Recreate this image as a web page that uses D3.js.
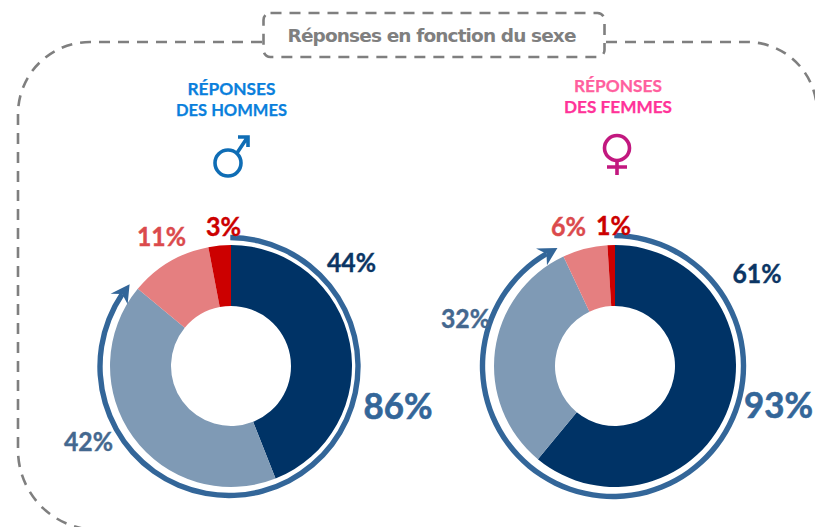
<!DOCTYPE html>
<html><head><meta charset="utf-8">
<script src="https://cdn.jsdelivr.net/npm/d3@7"></script>
<style>html,body{margin:0;padding:0;background:#fff;overflow:hidden}svg{display:block}text{font-family:Lato,Carlito,sans-serif}</style>
</head><body><svg id="c" width="815" height="527"></svg>
<script>
const categories = ["Tout à fait", "Plutôt", "Plutôt pas", "Pas du tout"];
const hommesValues = [44, 42, 11, 3];
const femmesValues = [61, 32, 6, 1];
const hommesTotal = 86;
const femmesTotal = 93;
const sliceColors = ["#003366", "#7f9ab5", "#e57f80", "#cc0000"];
const labelColors = ["#0b3564", "#44688f", "#db4a4c", "#cc0000"];
const svg = d3.select("#c");

const dash = "11 8";
const frameStyle = s => s.attr("fill","none").attr("stroke","#7f7f7f").attr("stroke-width",2.6).attr("stroke-dasharray",dash);
const frame = d3.path();
frame.moveTo(262, 42);
frame.lineTo(90, 42);
frame.arcTo(18, 42, 18, 114, 72);
frame.lineTo(18, 450);
frame.arcTo(18, 530, 98, 530, 80);
svg.append("path").attr("d", frame.toString()).call(frameStyle);
const frameR = d3.path();
frameR.moveTo(606, 42);
frameR.lineTo(747, 42);
frameR.arcTo(817, 42, 817, 112, 70);
svg.append("path").attr("d", frameR.toString()).call(frameStyle);
svg.append("rect").attr("x",263.5).attr("y",13).attr("width",341).attr("height",44).attr("rx",7)
  .attr("fill","#fff").call(frameStyle);
svg.append("text").attr("x",432).attr("y",42).attr("text-anchor","middle")
  .attr("font-size",18.5).attr("font-weight",700).attr("fill","#7f7f7f")
  .style("font-family","'DejaVu Sans'").attr("textLength",289).attr("lengthAdjust","spacing")
  .text("Réponses en fonction du sexe");

const panels = [
 {cx:231, ringC:[229,366.5], ringR:129, values:hommesValues, total:hommesTotal, head:["RÉPONSES","DES HOMMES"], headX:231.5, headY:[95,116], headFill:["#0a7fdc","#0a7fdc"], headW:[88,111],
  pos:[[351.5,272],[88.5,451],[161.5,246],[223.5,236]], totalPos:[398,419]},
 {cx:615, ringC:[613,366], ringR:130.5, values:femmesValues, total:femmesTotal, head:["RÉPONSES","DES FEMMES"], headX:618, headY:[92,113], headFill:["#ff5f9e","#ff3399"], headW:[88,108],
  pos:[[757,283],[465.5,328],[568.5,236],[613.5,235]], totalPos:[778.5,418]}
];
const cy = 366;
const pie = d3.pie().sort(null).value(d=>d);
const arc = d3.arc().innerRadius(60).outerRadius(121);

panels.forEach(p=>{
  const g = svg.append("g").attr("transform",`translate(${p.cx},${cy})`);
  g.selectAll("path.s").data(pie(p.values)).join("path").attr("class","s")
    .attr("d",arc).attr("fill",(d,i)=>sliceColors[i]);
  const r = p.ringR;
  const rg = svg.append("g").attr("transform",`translate(${p.ringC[0]},${p.ringC[1]})`);
  const end = d3.scaleLinear().domain([0,100]).range([0,2*Math.PI])(p.total);
  const headBack = 0.125;
  const ring = d3.arc().innerRadius(r-2.7).outerRadius(r+2.7).startAngle(0.01).endAngle(end-headBack+0.03);
  rg.append("path").attr("d",ring()).attr("fill","#336699");
  const pt=(rr,a)=>[rr*Math.sin(a),-rr*Math.cos(a)];
  const a0=end-headBack;
  const tri=[pt(r-10,a0-0.015),pt(r,end),pt(r+10,a0-0.015),pt(r,a0+0.03)];
  rg.append("path").attr("d",d3.line()(tri)+"Z").attr("fill","#336699");

  p.head.forEach((t,i)=>svg.append("text").attr("x",p.headX).attr("y",p.headY[i]).attr("text-anchor","middle")
    .attr("font-size",17).attr("font-weight",700).attr("fill",p.headFill[i]).attr("stroke",p.headFill[i]).attr("stroke-width",0.25)
    .attr("textLength",p.headW[i]).attr("lengthAdjust","spacingAndGlyphs").text(t));

  p.values.forEach((v,i)=>{
    const w = String(v).length===2 ? 49 : 35;
    svg.append("text").attr("x",p.pos[i][0]).attr("y",p.pos[i][1]).attr("text-anchor","middle")
    .attr("font-size",26).attr("font-weight",700).attr("fill",labelColors[i]).attr("stroke",labelColors[i]).attr("stroke-width",0.4)
    .attr("textLength",w).attr("lengthAdjust","spacingAndGlyphs").text(v+"%");
  });
  svg.append("text").attr("x",p.totalPos[0]).attr("y",p.totalPos[1]).attr("text-anchor","middle")
    .attr("font-size",36).attr("font-weight",700).attr("fill","#336699").attr("stroke","#336699").attr("stroke-width",0.6)
    .attr("textLength",69).attr("lengthAdjust","spacingAndGlyphs").text(p.total+"%");
});

const male = svg.append("g").attr("fill","none").attr("stroke","#0f6db5").attr("stroke-width",3.6);
male.append("circle").attr("cx",228).attr("cy",163).attr("r",13);
male.append("path").attr("d","M237 153L247 138M238 137H248V147");
const female = svg.append("g").attr("fill","none").attr("stroke","#c2187f").attr("stroke-width",3.6);
female.append("circle").attr("cx",617).attr("cy",148).attr("r",12.5);
female.append("path").attr("d","M617 161V175M607 167H627");
</script></body></html>
